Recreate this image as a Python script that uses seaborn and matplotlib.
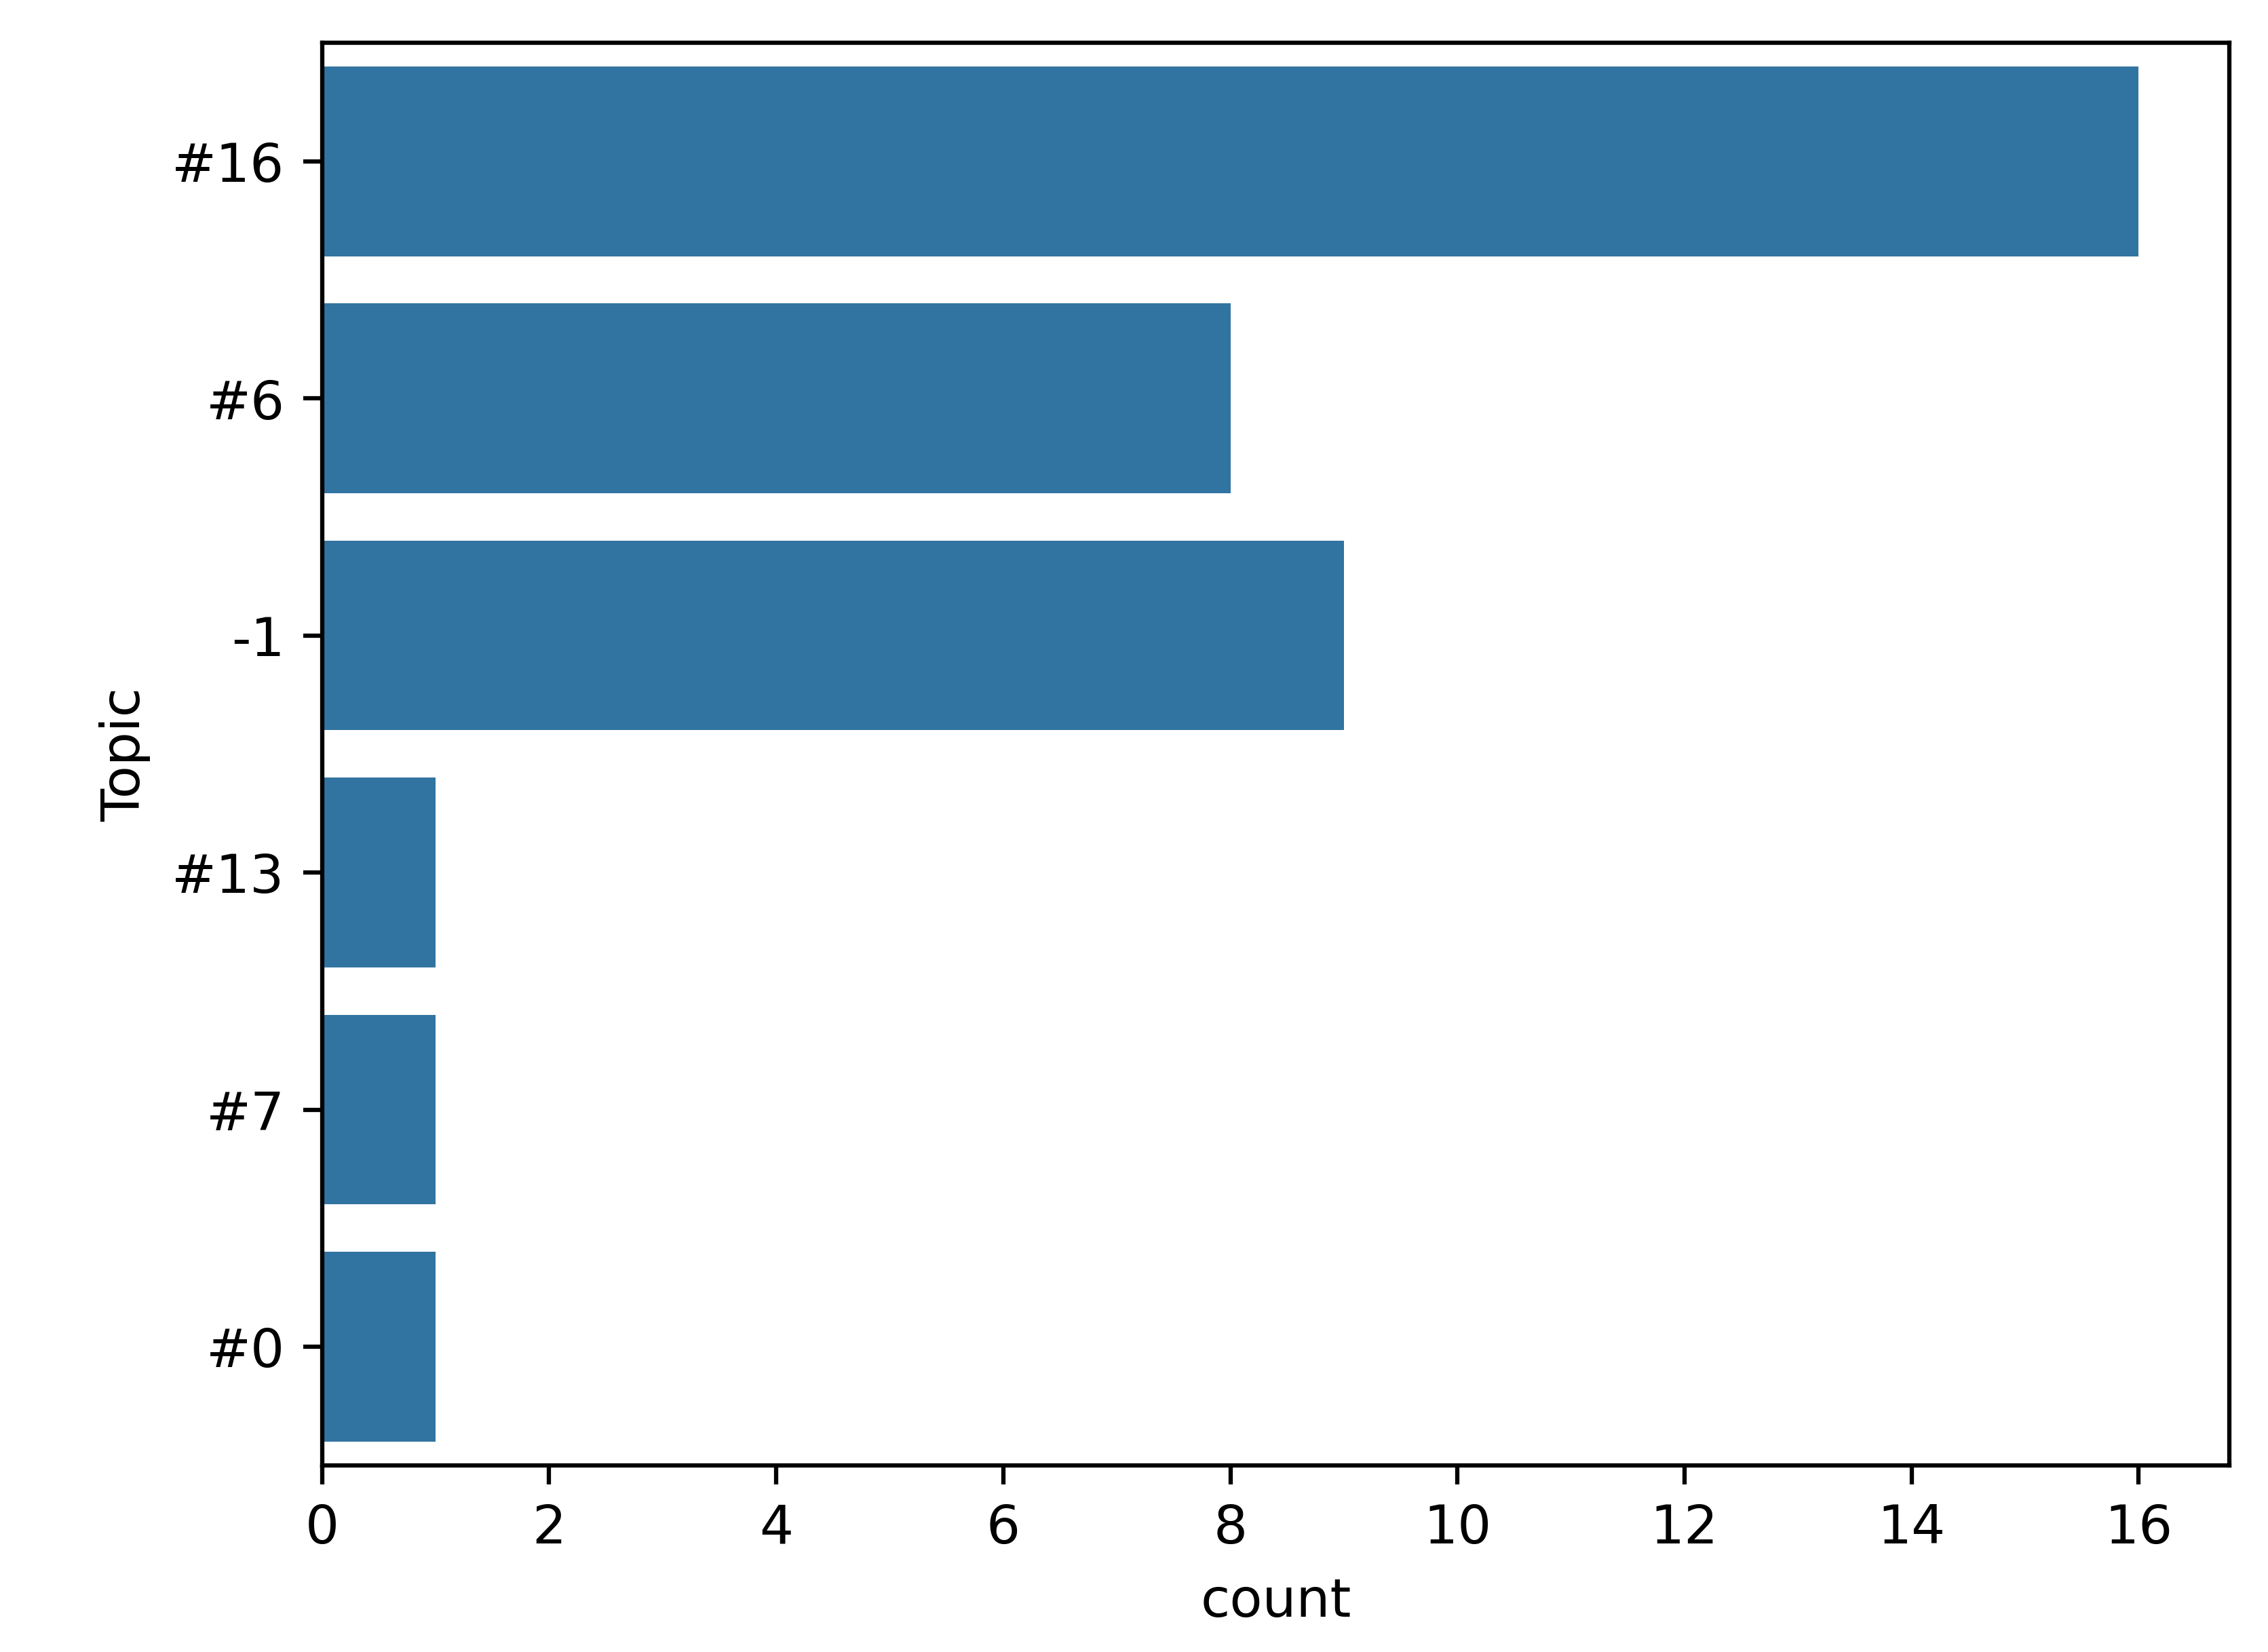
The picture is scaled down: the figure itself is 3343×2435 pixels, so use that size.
import matplotlib
matplotlib.use("Agg")
import matplotlib.pyplot as plt
import pandas as pd
import seaborn as sns

topics = ["#16", "#6", "-1", "#13", "#7", "#0"]
counts = [16, 8, 9, 1, 1, 1]

df = pd.DataFrame({"Topic": topics, "count": counts})

fig, ax = plt.subplots(figsize=(5.896, 4.295), dpi=567)
fig.subplots_adjust(left=0.142, right=0.983, top=0.974, bottom=0.113)

sns.barplot(data=df, x="count", y="Topic", order=topics, color="#1f77b4", ax=ax)
ax.set_xticks(range(0, 17, 2))

fig.savefig("out.png", dpi=567)
